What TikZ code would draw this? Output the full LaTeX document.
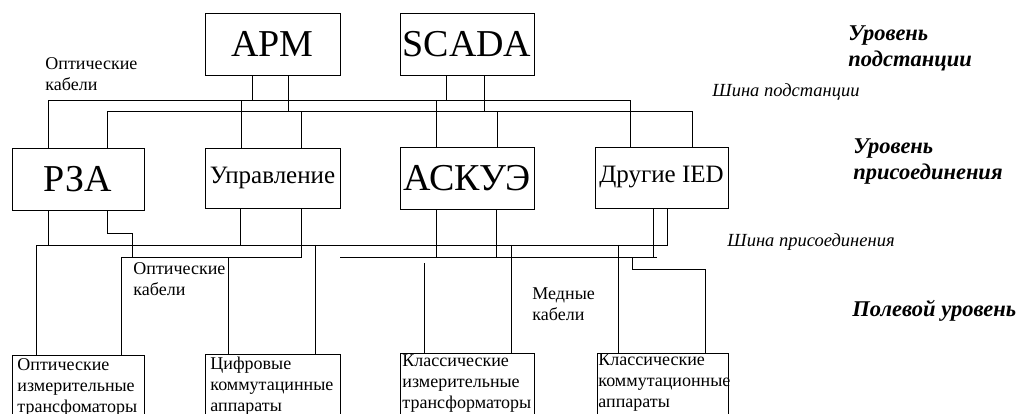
\documentclass[tikz,border=0pt]{standalone}
\usepackage{fontspec}
\setmainfont{Liberation Serif}

\begin{document}
\begin{tikzpicture}[
    x=1pt, y=-1pt,
    line width=0.9pt,
    box/.style={rectangle, draw, inner sep=0pt, font=\fontsize{38}{40}\selectfont},
    midbox/.style={box, font=\fontsize{25}{28}\selectfont},
    fieldbox/.style={rectangle, draw, anchor=north west, align=left, inner xsep=2pt, inner ysep=2pt, text depth=70pt, font=\fontsize{18}{21}\selectfont},
    note/.style={anchor=north west, align=left, inner sep=0pt, font=\fontsize{18}{21}\selectfont},
    level/.style={anchor=north west, align=left, inner sep=0pt, font=\bfseries\itshape\fontsize{22.5}{26.5}\selectfont},
    busname/.style={anchor=north west, inner sep=0pt, font=\itshape\fontsize{18.5}{20}\selectfont}
]
\useasboundingbox (0,0) rectangle (1020,414);
\clip (0,0) rectangle (1020,414);

% substation level
\node[box, minimum width=135pt, minimum height=62pt] (apm) at (272.5,44) {АРМ};
\node[box, minimum width=134pt, minimum height=62pt] (scada) at (467,44) {SCADA};

% bay level
\node[box, minimum width=132pt, minimum height=62pt] (rza) at (78,179) {РЗА};
\node[midbox, minimum width=135pt, minimum height=60pt] (upr) at (272.5,178) {Управление};
\node[box, minimum width=134pt, minimum height=62pt] (askue) at (467,178) {АСКУЭ};
\node[midbox, minimum width=133pt, minimum height=61pt] (ied) at (661.5,177.5) {Другие IED};

% field level
\node[fieldbox, inner xsep=5pt, inner ysep=3pt, text width=122pt] (f1) at (12,355) {Оптические\\измерительные\\трансфоматоры};
\node[fieldbox, inner xsep=5pt, inner ysep=3pt, text width=125pt] (f2) at (205,354) {Цифровые\\коммутацинные\\аппараты};
\node[fieldbox, inner xsep=2pt, inner ysep=1pt, text width=130pt] (f3) at (400,353) {Классические\\измерительные\\трансформаторы};
\node[fieldbox, inner xsep=1pt, inner ysep=0pt, text width=129pt] (f4) at (597,353) {Классические\\коммутационные\\аппараты};

% labels
\node[note] (optA) at (45,57) {Оптические\\кабели};
\node[note] (optB) at (133,262) {Оптические\\кабели};
\node[note] (copper) at (532,287) {Медные\\кабели};
\node[level] (lvlS) at (848,25) {Уровень\\подстанции};
\node[level] (lvlB) at (853,138) {Уровень\\присоединения};
\node[level] (lvlF) at (852,300) {Полевой уровень};
\node[busname] (busS) at (712,83) {Шина подстанции};
\node[busname] (busB) at (727,233) {Шина присоединения};

% bus levels
\coordinate (s1) at (0,100);
\coordinate (s2) at (0,111);
\coordinate (b1) at (0,245);
\coordinate (b2) at (0,257);

% substation bus
\draw ([xshift=37pt]rza.north west) -- ([xshift=37pt]rza.north west |- s1) -- ([xshift=36pt]ied.north west |- s1) -- ([xshift=36pt]ied.north west);
\draw ([xshift=96pt]rza.north west) -- ([xshift=96pt]rza.north west |- s2) -- ([xshift=98pt]ied.north west |- s2) -- ([xshift=98pt]ied.north west);
\draw ([xshift=48pt]apm.south west) -- ([xshift=48pt]apm.south west |- s1);
\draw ([xshift=84pt]apm.south west) -- ([xshift=84pt]apm.south west |- s2);
\draw ([xshift=47pt]scada.south west) -- ([xshift=47pt]scada.south west |- s1);
\draw ([xshift=85pt]scada.south west) -- ([xshift=85pt]scada.south west |- s2);
\draw ([xshift=37pt]upr.north west) -- ([xshift=37pt]upr.north west |- s1);
\draw ([xshift=97pt]upr.north west) -- ([xshift=97pt]upr.north west |- s2);
\draw ([xshift=37pt]askue.north west) -- ([xshift=37pt]askue.north west |- s1);
\draw ([xshift=98pt]askue.north west) -- ([xshift=98pt]askue.north west |- s2);

% bay bus
\coordinate (b2w) at (340,257);
\coordinate (b2e) at (657,257);
\coordinate (jog) at (632,257);
\coordinate (f3top) at (424,263);
\draw ([xshift=24pt]f1.north west) -- ([xshift=24pt]f1.north west |- b1) -- ([xshift=73pt]ied.south west |- b1) -- ([xshift=73pt]ied.south west);
\draw ([xshift=109pt]f1.north west) -- ([xshift=109pt]f1.north west |- b2) -- ([xshift=97pt]upr.south west |- b2) -- ([xshift=97pt]upr.south west);
\draw (b2w) -- (b2e);
\draw ([xshift=37pt]rza.south west) -- ([xshift=37pt]rza.south west |- b1);
\draw ([xshift=96pt]rza.south west) -- ++(0,23) -| ([xshift=121pt]rza.south west |- b2);
\draw ([xshift=36pt]upr.south west) -- ([xshift=36pt]upr.south west |- b1);
\draw ([xshift=37pt]askue.south west) -- ([xshift=37pt]askue.south west |- b2);
\draw ([xshift=97pt]askue.south west) -- ([xshift=97pt]askue.south west |- b2);
\draw ([xshift=59pt]ied.south west) -- ([xshift=59pt]ied.south west |- b2);

% field connections
\draw ([xshift=23pt]f2.north west |- b2) -- ([xshift=23pt]f2.north west);
\draw ([xshift=110pt]f2.north west |- b1) -- ([xshift=110pt]f2.north west);
\draw (f3top) -- (f3top |- f3.north);
\draw ([xshift=111pt]f3.north west |- b1) -- ([xshift=111pt]f3.north west);
\draw ([xshift=21pt]f4.north west |- b1) -- ([xshift=21pt]f4.north west);
\draw (jog) -- ++(0,12) -| ([xshift=108pt]f4.north west);
\end{tikzpicture}
\end{document}
